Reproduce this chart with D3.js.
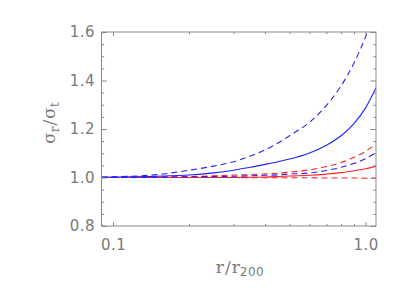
<!DOCTYPE html>
<html>
<head>
<meta charset="utf-8">
<script src="https://cdn.jsdelivr.net/npm/d3@7"></script>
<style>
  body { margin: 0; background: #fff; }
  svg text { fill: #7a7a7a; font-family: "DejaVu Sans", sans-serif; }
</style>
</head>
<body>
<div id="chart"></div>
<script>
// radius in units of r200
const radii = [0.09, 0.1, 0.15, 0.2, 0.25, 0.3, 0.35, 0.4, 0.45, 0.5, 0.6, 0.7, 0.8, 0.9, 1.0, 1.1];

// sigma_r / sigma_t for each model
const blueDashHigh = [1.002, 1.003, 1.012, 1.030, 1.047, 1.065, 1.089, 1.114, 1.142, 1.172, 1.228, 1.297, 1.378, 1.472, 1.580, 1.700];
const blueSolid    = [1.001, 1.002, 1.005, 1.010, 1.019, 1.030, 1.042, 1.054, 1.065, 1.076, 1.101, 1.133, 1.172, 1.222, 1.287, 1.370];
const blueDashLow  = [1.000, 1.000, 1.001, 1.003, 1.004, 1.005, 1.007, 1.009, 1.011, 1.014, 1.019, 1.029, 1.042, 1.058, 1.078, 1.103];
const redDashHigh  = [1.000, 1.000, 1.002, 1.004, 1.007, 1.010, 1.012, 1.015, 1.018, 1.022, 1.032, 1.045, 1.062, 1.083, 1.108, 1.138];
const redSolid     = [1.000, 1.000, 1.000, 1.000, 1.000, 1.000, 1.001, 1.002, 1.004, 1.006, 1.009, 1.014, 1.020, 1.028, 1.036, 1.046];
const redDashLow   = [1.000, 1.000, 1.000, 1.000, 1.000, 1.000, 0.999, 0.999, 0.999, 0.999, 0.999, 0.998, 0.998, 0.998, 0.997, 0.997];

const xMajor = [0.1, 1.0];
const xMinor = [0.09, 0.2, 0.3, 0.4, 0.5, 0.6, 0.7, 0.8, 0.9];
const yMajor = [0.8, 1.0, 1.2, 1.4, 1.6];
const yMinor = [0.85, 0.9, 0.95, 1.05, 1.1, 1.15, 1.25, 1.3, 1.35, 1.45, 1.5, 1.55];

const width = 407, height = 291;
const margin = {top: 32, right: 31, bottom: 65, left: 101.5};
const innerW = width - margin.left - margin.right;
const innerH = height - margin.top - margin.bottom;

const x = d3.scaleLog().domain([0.09, 1.1]).range([0, innerW]);
const y = d3.scaleLinear().domain([0.8, 1.6]).range([innerH, 0]);

const svg = d3.select('#chart').append('svg')
  .attr('width', width).attr('height', height);

const g = svg.append('g')
  .attr('transform', `translate(${margin.left},${margin.top})`);

g.append('clipPath').attr('id', 'plotclip')
  .append('rect').attr('width', innerW).attr('height', innerH);

// series: reds first, blues on top
const series = [
  {vals: redDashLow,   color: '#ff2020', dash: '6,4'},
  {vals: redSolid,     color: '#ff2020', dash: null},
  {vals: redDashHigh,  color: '#ff2020', dash: '6,4'},
  {vals: blueDashLow,  color: '#2020ff', dash: '6,4'},
  {vals: blueSolid,    color: '#2020ff', dash: null},
  {vals: blueDashHigh, color: '#2020ff', dash: '6,4'}
];

const line = d3.line()
  .x(d => x(d[0]))
  .y(d => y(d[1]))
  .curve(d3.curveMonotoneX);

g.append('g').attr('clip-path', 'url(#plotclip)')
  .selectAll('path')
  .data(series)
  .join('path')
    .attr('d', s => line(radii.map((r, i) => [r, s.vals[i]])))
    .attr('fill', 'none')
    .attr('stroke', s => s.color)
    .attr('stroke-width', 1.1)
    .attr('stroke-dasharray', s => s.dash);

// ---------------- axes (ticks point inward) ----------------
const axisColor = '#8a8a8a';
const tickX = 4, tickY = 5.5;

function style(sel) {
  sel.select('.domain').remove();
  sel.selectAll('line').attr('stroke', axisColor);
  sel.selectAll('text').attr('fill', '#7a7a7a')
    .style('font-size', '15px').style('letter-spacing', '0.5px');
}

g.append('g').attr('transform', `translate(0,${innerH})`)
  .call(d3.axisBottom(x).tickValues(xMajor).tickSize(-tickX).tickPadding(13).tickFormat(d3.format('.1f')))
  .call(style);
g.append('g').attr('transform', `translate(0,${innerH})`)
  .call(d3.axisBottom(x).tickValues(xMinor).tickSize(-tickX / 2).tickFormat(''))
  .call(style);
g.append('g')
  .call(d3.axisTop(x).tickValues(xMajor).tickSize(-tickX).tickFormat(''))
  .call(style);
g.append('g')
  .call(d3.axisTop(x).tickValues(xMinor).tickSize(-tickX / 2).tickFormat(''))
  .call(style);

g.append('g')
  .call(d3.axisLeft(y).tickValues(yMajor).tickSize(-tickY).tickPadding(6.5).tickFormat(d3.format('.1f')))
  .call(style);
g.append('g')
  .call(d3.axisLeft(y).tickValues(yMinor).tickSize(-tickY / 2).tickFormat(''))
  .call(style);
g.append('g').attr('transform', `translate(${innerW},0)`)
  .call(d3.axisRight(y).tickValues(yMajor).tickSize(-tickY).tickFormat(''))
  .call(style);
g.append('g').attr('transform', `translate(${innerW},0)`)
  .call(d3.axisRight(y).tickValues(yMinor).tickSize(-tickY / 2).tickFormat(''))
  .call(style);

// frame
g.append('rect')
  .attr('width', innerW).attr('height', innerH)
  .attr('fill', 'none').attr('stroke', axisColor).attr('stroke-width', 1);

// ---------------- axis titles ----------------
const xt = svg.append('text')
  .attr('x', 240).attr('y', 273)
  .attr('text-anchor', 'middle')
  .style('font-size', '17px');
xt.append('tspan').style('font-family', '"DejaVu Serif", serif').text('r');
xt.append('tspan').style('font-family', '"DejaVu Serif", serif').attr('dx', 1).text('/');
xt.append('tspan').style('font-family', '"DejaVu Serif", serif').attr('dx', 1).text('r');
xt.append('tspan').attr('dy', 3).style('font-size', '12px').style('letter-spacing', '0.5px').text('200');

const yt = svg.append('text')
  .attr('transform', 'translate(55,123) rotate(-90)')
  .attr('text-anchor', 'middle')
  .style('font-size', '17px');
yt.append('tspan').style('font-family', '"DejaVu Serif", serif').text('σ');
yt.append('tspan').attr('dy', 4).style('font-size', '12px').style('font-family', '"DejaVu Serif", serif').text('r');
yt.append('tspan').attr('dy', -4).attr('dx', 1).style('font-family', '"DejaVu Serif", serif').text('/');
yt.append('tspan').attr('dx', 1).style('font-family', '"DejaVu Serif", serif').text('σ');
yt.append('tspan').attr('dy', 4).style('font-size', '12px').style('font-family', '"DejaVu Serif", serif').text('t');
</script>
</body>
</html>
